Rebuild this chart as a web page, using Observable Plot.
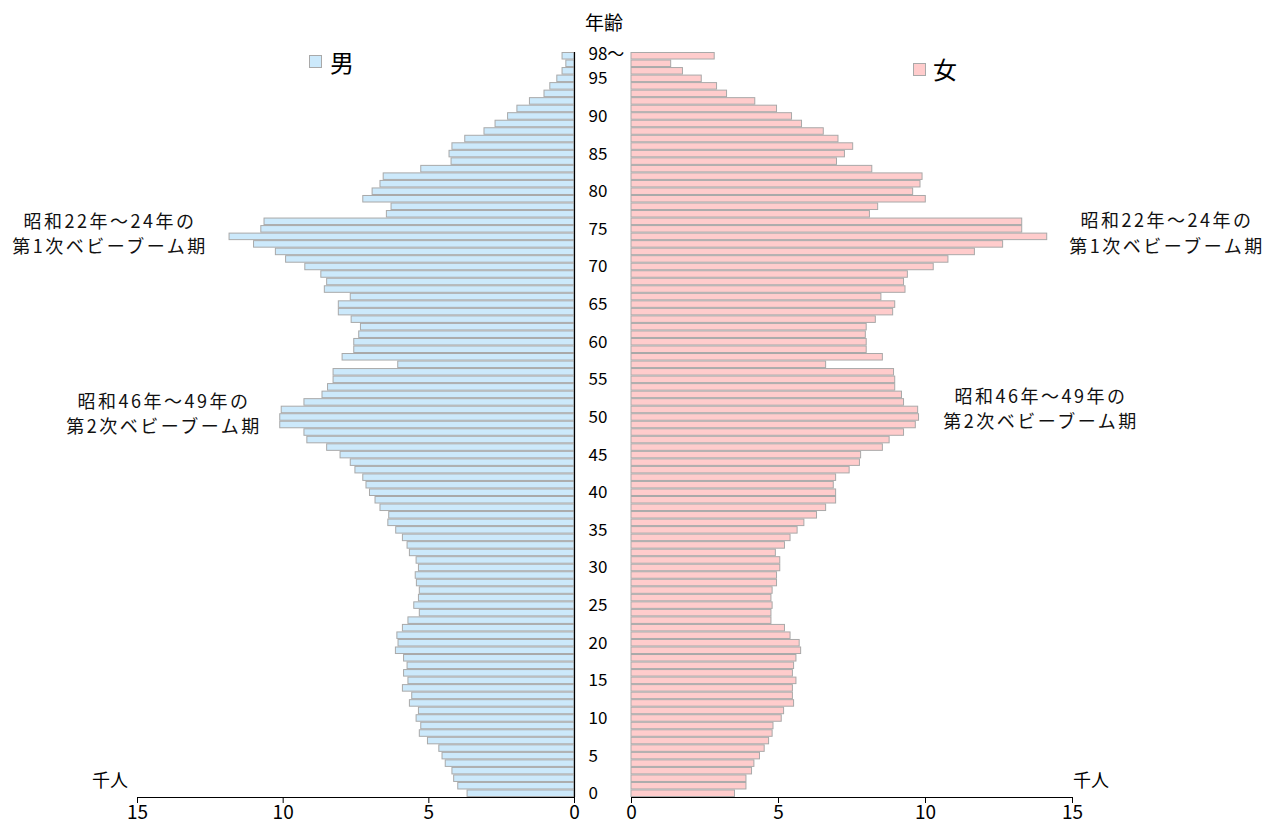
<!DOCTYPE html>
<html><head><meta charset="utf-8">
<script src="https://cdn.jsdelivr.net/npm/d3@7"></script>
<script src="https://cdn.jsdelivr.net/npm/@observablehq/plot@0.6"></script>
<style>
body{margin:0;background:#fff;}
#wrap{position:relative;width:1269px;height:825px;overflow:hidden;font-family:"Noto Sans CJK JP",sans-serif;color:#000;background:#fff;}
.abs{position:absolute;white-space:nowrap;line-height:1;}
.nl{position:absolute;transform:translateX(-50%);text-align:center;font-size:18px;letter-spacing:2.5px;white-space:nowrap;color:#111;}
.sq{position:absolute;width:11px;height:11px;border:1px solid #a9a9a9;}
</style></head><body><div id="wrap"></div>
<script>
// ages 0 .. 98 (98 = "98〜")
const ages = d3.range(0, 99);
const male = [3.67,3.99,4.13,4.19,4.42,4.53,4.64,5.03,5.31,5.26,
  5.42,5.34,5.65,5.57,5.89,5.70,5.85,5.73,5.85,6.13,
  6.04,6.08,5.89,5.70,5.31,5.50,5.34,5.31,5.41,5.45,
  5.34,5.42,5.65,5.73,5.89,6.12,6.39,6.36,6.66,6.83,
  7.02,7.14,7.25,7.52,7.68,8.03,8.49,9.17,9.27,10.10,
  10.10,10.05,9.27,8.65,8.46,8.27,8.27,6.05,7.96,7.56,
  7.56,7.39,7.33,7.65,8.09,8.09,7.68,8.57,8.49,8.69,
  9.24,9.90,10.25,11.00,11.84,10.75,10.64,6.44,6.28,7.25,
  6.93,6.66,6.55,5.26,4.22,4.29,4.19,3.75,3.09,2.71,
  2.28,1.96,1.53,1.03,0.83,0.59,0.41,0.28,0.41];
const female = [3.52,3.91,3.91,4.10,4.18,4.37,4.53,4.68,4.80,4.83,
  5.11,5.19,5.53,5.49,5.49,5.61,5.49,5.53,5.61,5.77,
  5.72,5.41,5.22,4.76,4.76,4.80,4.76,4.80,4.95,4.95,
  5.06,5.06,4.91,5.22,5.41,5.65,5.88,6.31,6.62,6.96,
  6.96,6.88,6.96,7.42,7.77,7.81,8.55,8.78,9.27,9.67,
  9.78,9.75,9.27,9.20,8.97,8.97,8.93,6.62,8.55,8.00,
  8.00,7.97,8.00,8.31,8.90,8.97,8.50,9.32,9.27,9.40,
  10.28,10.78,11.68,12.64,14.14,13.29,13.29,8.11,8.39,10.01,
  9.58,9.83,9.90,8.19,6.99,7.26,7.54,7.04,6.54,5.80,
  5.46,4.95,4.21,3.25,2.91,2.39,1.75,1.35,2.83];
const ageTicks = [0,5,10,15,20,25,30,35,40,45,50,55,60,65,70,75,80,85,90,95];
const topAge = 98, topLabel = "98〜";
const xTicks = [0,5,10,15];
const maleLabel = "男", femaleLabel = "女";
const ageTitle = "年齢", unitLabel = "千人";
const notes = [
  {lines:["昭和22年〜24年の","第1次ベビーブーム期"], side:"left"},
  {lines:["昭和46年〜49年の","第2次ベビーブーム期"], side:"left"},
  {lines:["昭和22年〜24年の","第1次ベビーブーム期"], side:"right"},
  {lines:["昭和46年〜49年の","第2次ベビーブーム期"], side:"right"}
];

const maleData = ages.map((a, i) => ({age: a, value: male[i]}));
const femaleData = ages.map((a, i) => ({age: a, value: female[i]}));
const font = '"Noto Sans CJK JP", "Noto Sans", sans-serif';
const H = 825, MT = 52, MB = 28;

const malePlot = Plot.plot({
  width: 600, height: H, marginLeft: 137, marginRight: 26, marginTop: MT, marginBottom: MB,
  style: {fontFamily: font, fontSize: "19px", background: "transparent", overflow: "visible", color: "#000"},
  x: {domain: [0, 15], reverse: true, label: null},
  y: {domain: [0, 99], axis: null, label: null},
  marks: [
    Plot.rectX(maleData, {x1: 0, x2: "value", y1: "age", y2: d => d.age + 1,
      fill: "#cce9fb", stroke: "#a9a9a9", strokeWidth: 1, insetTop: 0.5, insetBottom: 0.5}),
    Plot.ruleX([0], {stroke: "#000", strokeWidth: 1.2}),
    Plot.ruleY([0], {stroke: "#000", strokeWidth: 1.2}),
    Plot.axisX(xTicks, {anchor: "bottom", tickSize: 6, tickPadding: 2, fontSize: 19, label: null, tickFormat: d => String(d)})
  ]
});

const femalePlot = Plot.plot({
  width: 695, height: H, marginLeft: 57, marginRight: 197, marginTop: MT, marginBottom: MB,
  style: {fontFamily: font, fontSize: "19px", background: "transparent", overflow: "visible", color: "#000"},
  x: {domain: [0, 15], label: null},
  y: {domain: [0, 99], label: null},
  marks: [
    Plot.rectX(femaleData, {x1: 0, x2: "value", y1: "age", y2: d => d.age + 1,
      fill: "#ffcccc", stroke: "#a9a9a9", strokeWidth: 1, insetTop: 0.5, insetBottom: 0.5}),
    Plot.ruleY([0], {stroke: "#000", strokeWidth: 1.2}),
    Plot.axisX(xTicks, {anchor: "bottom", tickSize: 6, tickPadding: 2, fontSize: 19, label: null, tickFormat: d => String(d)}),
    Plot.axisY(ageTicks.map(a => a + 0.5), {anchor: "left", tickSize: 0, tickPadding: 0, textAnchor: "start", dx: -43,
      fontSize: 17, label: null, tickFormat: d => String(d - 0.5)}),
    Plot.axisY([topAge + 0.5], {anchor: "left", tickSize: 0, tickPadding: 0, textAnchor: "start", dx: -43, dy: -2,
      fontSize: 17, label: null, tickFormat: () => topLabel})
  ]
});

const wrap = document.getElementById("wrap");
malePlot.style.position = "absolute"; malePlot.style.left = "0px"; malePlot.style.top = "0px";
femalePlot.style.position = "absolute"; femalePlot.style.left = "574px"; femalePlot.style.top = "0px";
wrap.appendChild(malePlot);
wrap.appendChild(femalePlot);

function addDiv(cls, text, css) {
  const d = document.createElement("div");
  d.className = cls;
  if (text != null) d.textContent = text;
  Object.assign(d.style, css);
  wrap.appendChild(d);
  return d;
}
addDiv("abs", ageTitle, {left: "585px", top: "12px", fontSize: "19px"});
addDiv("abs", unitLabel, {left: "92px", top: "770px", fontSize: "18px"});
addDiv("abs", unitLabel, {left: "1073px", top: "770px", fontSize: "18px"});
addDiv("sq", null, {left: "309px", top: "55px", background: "#cce9fb"});
addDiv("abs", maleLabel, {left: "330px", top: "50px", fontSize: "24px"});
addDiv("sq", null, {left: "913px", top: "63px", background: "#ffcccc"});
addDiv("abs", femaleLabel, {left: "933px", top: "57px", fontSize: "24px"});

// [centre x, top of first line, line pitch]
const notePos = [[110, 208, 25], [164, 388, 25], [1167, 206, 26], [1041, 383, 25]];
notes.forEach((n, i) => {
  const pitch = notePos[i][2];
  n.lines.forEach((l, j) => {
    addDiv("nl", l, {left: notePos[i][0] + "px", top: (notePos[i][1] + j * pitch) + "px",
      height: pitch + "px", lineHeight: pitch + "px"});
  });
});
</script>
</body></html>
